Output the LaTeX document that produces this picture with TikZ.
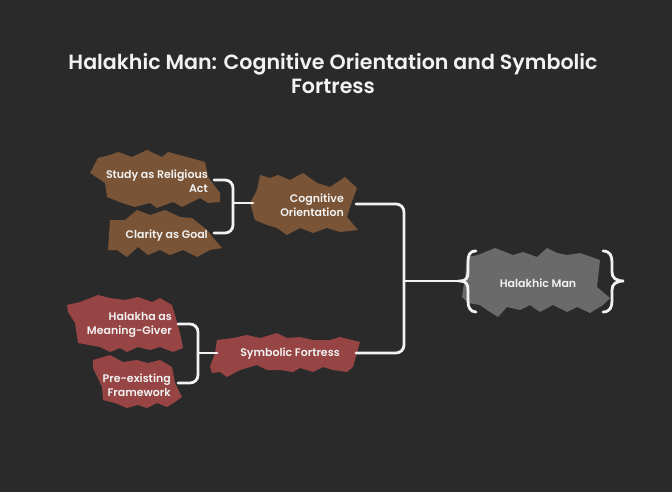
\documentclass[tikz,border=0pt]{standalone}
\usepackage{fontspec}
\setmainfont{Poppins}[BoldFont={Poppins SemiBold}]
\definecolor{bg}{HTML}{2A2A2A}
\definecolor{brownfill}{HTML}{7A5436}
\definecolor{redfill}{HTML}{974444}
\definecolor{grayfill}{HTML}{6A6A6A}
\definecolor{txt}{HTML}{F2F2F2}
\begin{document}
\begin{tikzpicture}[x=1pt,y=-1pt,
  lbl/.style={text=txt,font=\fontsize{11}{14}\selectfont\bfseries,inner sep=0pt},
  conn/.style={draw=txt,line width=2.8pt,line cap=round,line join=round,rounded corners=8pt},
  brace/.style={draw=txt,line width=2.8pt,line cap=round}]
\useasboundingbox (0,0) rectangle (672,492);
\fill[bg] (0,0) rectangle (672,492);
% title
\node[text=txt,font=\fontsize{20.6}{24}\selectfont\bfseries,align=center] (title) at (333,74)
  {Halakhic Man: Cognitive Orientation and Symbolic\\Fortress};
% shapes
\fill[brownfill] (90,173) -- (98,158) -- (110,155) -- (118,152) -- (132,157) -- (147,150) -- (162,157) -- (168,152) -- (187,157) -- (205,162) -- (208,177) -- (220,193) -- (220,202) -- (208,203) -- (200,198) -- (182,207) -- (173,202) -- (157,208) -- (150,203) -- (135,207) -- (122,203) -- (107,197) -- (105,183) -- cycle;
\fill[brownfill] (110,220) -- (125,220) -- (137,210) -- (150,215) -- (165,210) -- (180,217) -- (192,218) -- (207,230) -- (215,240) -- (222,248) -- (210,250) -- (197,257) -- (183,250) -- (170,255) -- (160,250) -- (148,255) -- (138,247) -- (127,257) -- (117,250) -- (108,250) -- cycle;
\fill[brownfill] (257,190) -- (260,175) -- (270,178) -- (278,175) -- (290,180) -- (303,173) -- (317,183) -- (330,187) -- (345,177) -- (357,188) -- (350,207) -- (347,217) -- (358,230) -- (340,232) -- (327,228) -- (313,233) -- (300,228) -- (287,235) -- (277,228) -- (267,225) -- (255,220) -- (250,203) -- cycle;
\fill[redfill] (217,340) -- (233,338) -- (247,335) -- (260,338) -- (277,333) -- (287,338) -- (300,337) -- (313,340) -- (330,340) -- (340,337) -- (360,342) -- (353,367) -- (347,372) -- (333,370) -- (323,367) -- (313,372) -- (300,368) -- (293,372) -- (280,370) -- (267,370) -- (257,365) -- (240,370) -- (227,377) -- (220,372) -- (212,373) -- (210,367) -- (215,353) -- cycle;
\fill[redfill] (67,305) -- (80,302) -- (98,295) -- (110,298) -- (125,300) -- (138,297) -- (152,302) -- (160,298) -- (172,305) -- (177,322) -- (180,333) -- (183,348) -- (173,352) -- (160,347) -- (150,350) -- (138,347) -- (127,352) -- (120,348) -- (110,352) -- (100,347) -- (78,343) -- (75,323) -- (68,312) -- cycle;
\fill[redfill] (93,360) -- (110,355) -- (123,362) -- (137,360) -- (148,363) -- (160,360) -- (172,367) -- (175,383) -- (182,397) -- (175,402) -- (167,407) -- (157,403) -- (147,408) -- (138,405) -- (127,408) -- (115,403) -- (103,400) -- (102,387) -- (93,368) -- cycle;
\fill[grayfill] (467,257) -- (478,255) -- (495,248) -- (513,255) -- (523,252) -- (537,257) -- (547,248) -- (557,253) -- (567,255) -- (580,253) -- (600,260) -- (597,287) -- (610,298) -- (603,305) -- (590,313) -- (577,307) -- (567,312) -- (553,305) -- (540,312) -- (530,305) -- (520,310) -- (507,307) -- (498,317) -- (487,310) -- (480,305) -- (468,303) -- (462,297) -- (465,277) -- cycle;
% labels
\node[lbl,align=right,anchor=east] (study) at (208,181) {Study as Religious\\Act};
\node[lbl,anchor=east] (clarity) at (208,236) {Clarity as Goal};
\node[lbl,align=right,anchor=east] (cog) at (344,205) {Cognitive\\Orientation};
\node[lbl,align=right,anchor=east] (hal) at (172,325) {Halakha as\\Meaning-Giver};
\node[lbl,align=right,anchor=east] (pre) at (171,385) {Pre-existing\\Framework};
\node[lbl] (sym) at (290,354) {Symbolic Fortress};
\node[lbl] (man) at (538,283) {Halakhic Man};
% connector points
\coordinate (cA1) at (214,180);
\coordinate (cA2) at (214,233);
\coordinate (cAj) at (233,203);
\coordinate (cAe) at (253,203);
\coordinate (cB1) at (178,324);
\coordinate (cB2) at (178,383);
\coordinate (cBj) at (198,353);
\coordinate (cBe) at (217,353);
\coordinate (cC1) at (356,204);
\coordinate (cC2) at (356,353);
\coordinate (cCj) at (404,281);
\coordinate (cCe) at (458,281);
% brackets
\draw[conn] (cA1) -| (cAj) |- (cA2);
\draw[conn,rounded corners=0pt] (cAj) -- (cAe);
\draw[conn] (cB1) -| (cBj) |- (cB2);
\draw[conn,rounded corners=0pt] (cBj) -- (cBe);
\draw[conn] (cC1) -| (cCj) |- (cC2);
\draw[conn,rounded corners=0pt] (cCj) -- (cCe);
% braces around Halakhic Man
\draw[brace] (476,251) .. controls (469,251) and (468,256) .. (468,262) -- (468,272) .. controls (468,278) and (466,281) .. (460,281) .. controls (466,281) and (468,284) .. (468,290) -- (468,301) .. controls (468,307) and (470,312) .. (476,312);
\draw[brace] (603,251) .. controls (610,251) and (612,256) .. (612,262) -- (612,272) .. controls (612,278) and (616,281) .. (624,281) .. controls (616,281) and (612,284) .. (612,290) -- (612,301) .. controls (612,307) and (610,312) .. (603,312);
\end{tikzpicture}
\end{document}
